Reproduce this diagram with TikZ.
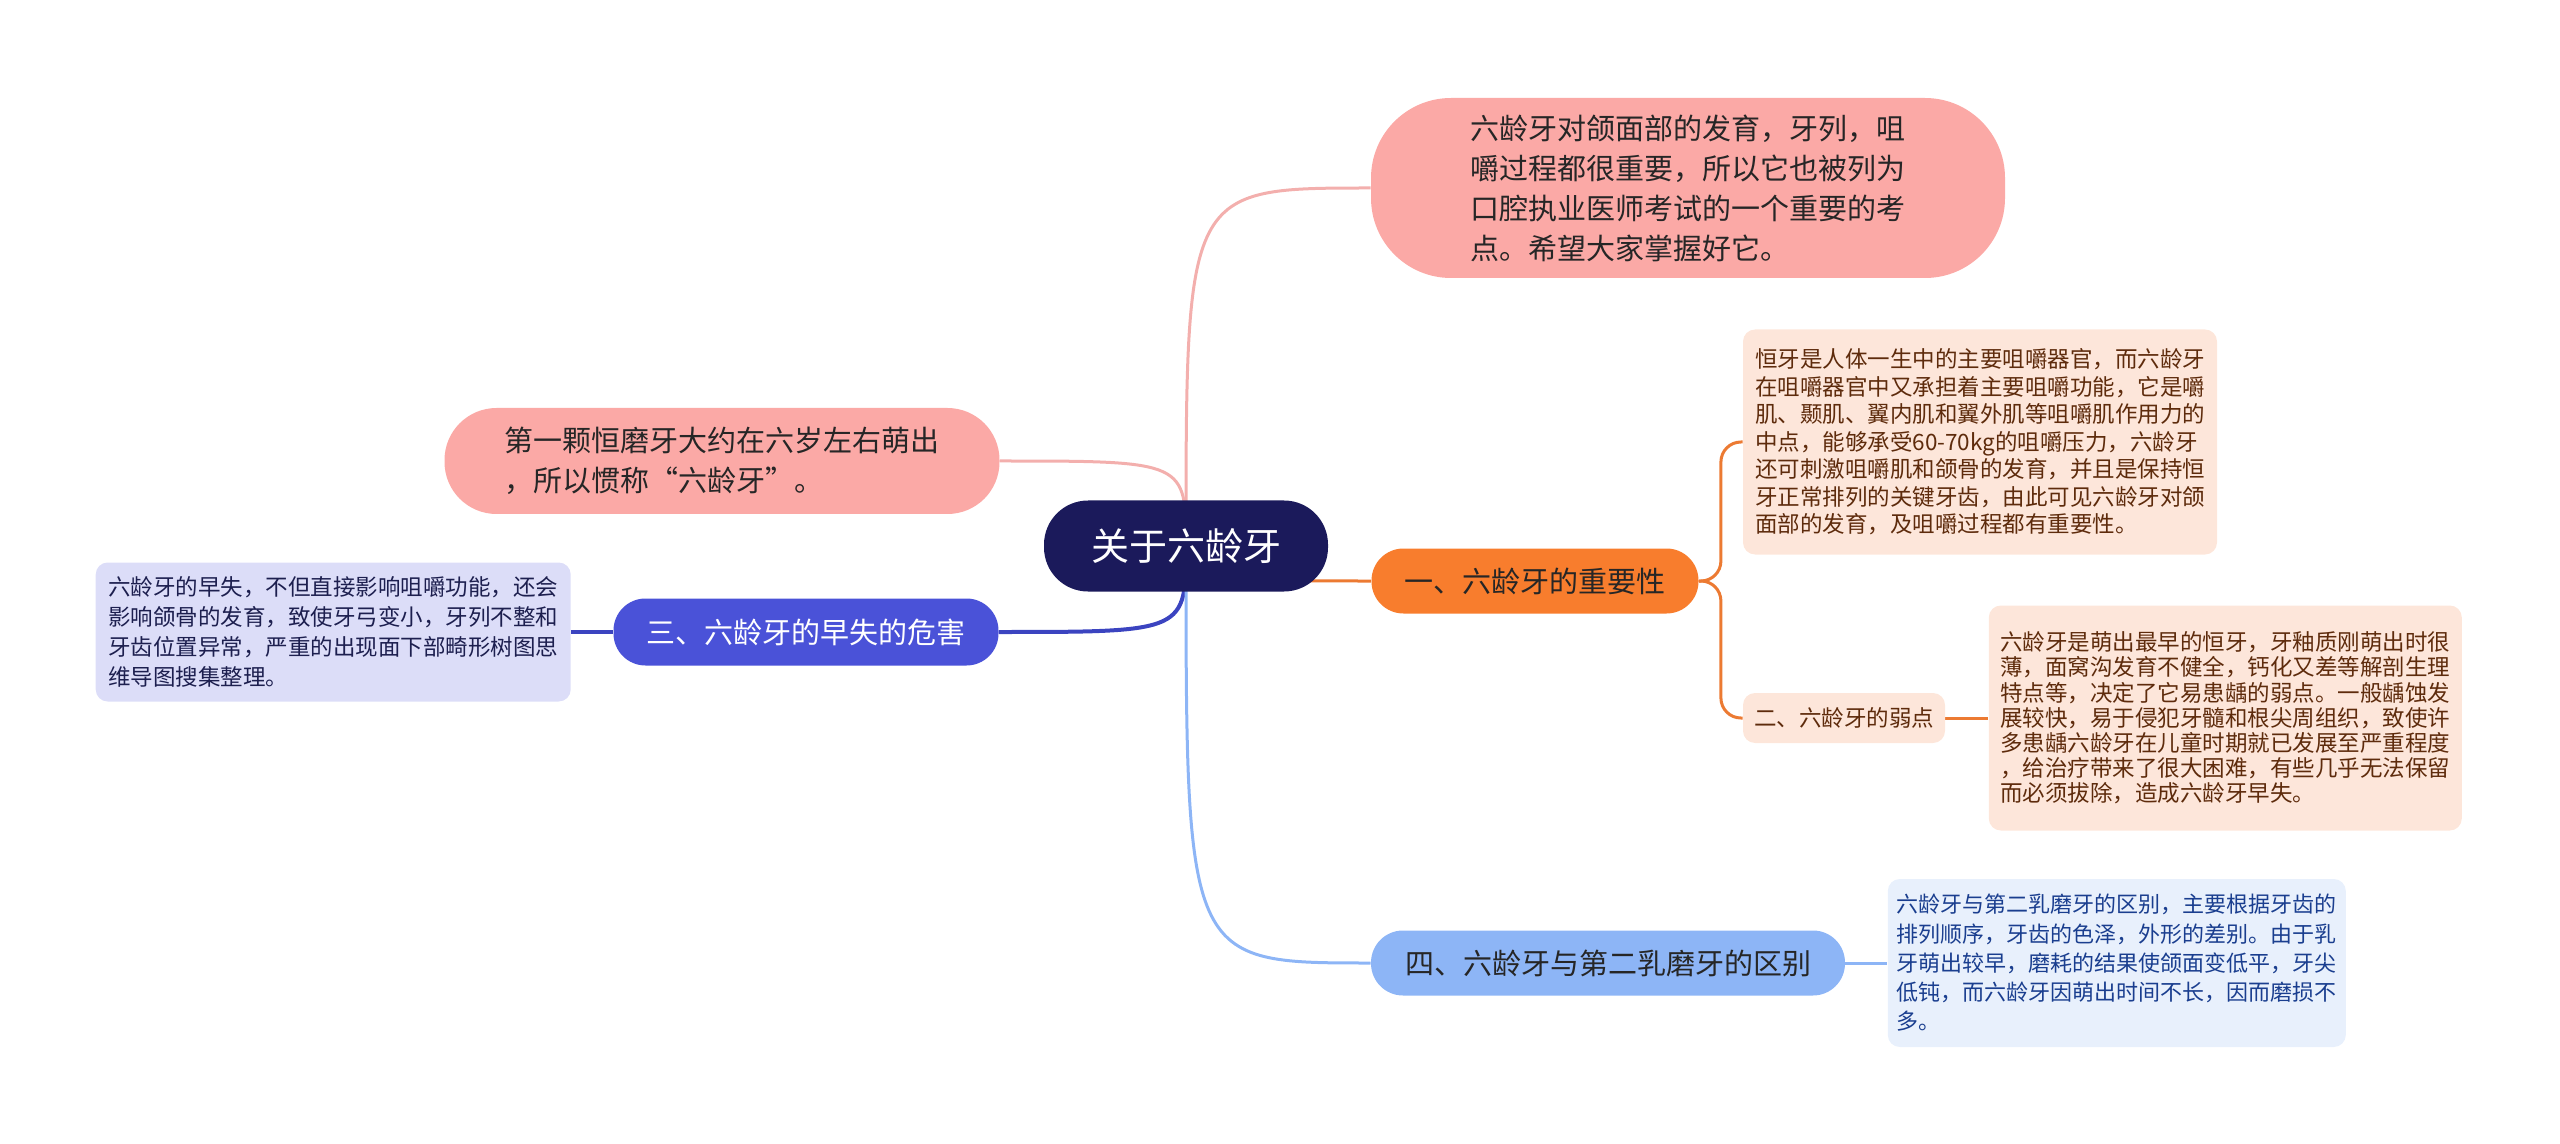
\documentclass[tikz,border=0pt]{standalone}
\usepackage{fontspec}
\setmainfont{Noto Sans CJK SC}
\usepackage{tikz}
\usetikzlibrary{
  positioning,
  backgrounds,
}
\definecolor{rootBg}{HTML}{1B1A5B}
\definecolor{pinkBg}{HTML}{FBA9A6}
\definecolor{pinkLn}{HTML}{F3AFAD}
\definecolor{orangeBg}{HTML}{F87D2D}
\definecolor{orangeLn}{HTML}{EC7A32}
\definecolor{indigoBg}{HTML}{4A52D8}
\definecolor{indigoLn}{HTML}{3B44C0}
\definecolor{skyBg}{HTML}{8DB5F6}
\definecolor{peachBg}{HTML}{FDE6DA}
\definecolor{peachTx}{HTML}{5E2B0C}
\definecolor{lavBg}{HTML}{DCDDF8}
\definecolor{lavTx}{HTML}{1D1F4F}
\definecolor{iceBg}{HTML}{E8F0FC}
\definecolor{iceTx}{HTML}{1A3E8F}
\tikzset{
  rootbox/.style={
    rectangle, rounded corners=22pt, fill=rootBg, text=white, inner sep=0pt,
    minimum width=142pt, minimum height=45.5pt,
    font=\fontsize{19pt}{23pt}\selectfont,
  },
  branch/.style 2 args={
    rectangle, rounded corners=16pt, fill=#1, text=#2, inner sep=0pt,
    align=left, font=\fontsize{14.5pt}{20pt}\selectfont,
  },
  leaf/.style 2 args={
    rectangle, rounded corners=6pt, fill=#1, text=#2, inner sep=0pt,
    align=left, font=\fontsize{11.25pt}{13.75pt}\selectfont,
  },
  branchline/.style={line width=1.5pt, draw=#1},
}

\begin{document}
\begin{tikzpicture}[x=0.5pt, y=-0.5pt]
\useasboundingbox (0,0) rectangle (2560,1144);

% root and main branches
\node[rootbox] (root) at (1186,546) {关于六龄牙};
\node[branch={pinkBg}{black!85}, rounded corners=40pt,
      minimum width=317pt, minimum height=90pt] (remark) at (1688,188) {%
  六龄牙对颌面部的发育，牙列，咀\\
  嚼过程都很重要，所以它也被列为\\
  口腔执业医师考试的一个重要的考\\
  点。希望大家掌握好它。};
\node[branch={pinkBg}{black!85}, rounded corners=26pt,
      minimum width=277.5pt, minimum height=53pt] (origin) at (722,461) {%
  第一颗恒磨牙大约在六岁左右萌出\\
  ，所以惯称“六龄牙”。};
\node[branch={orangeBg}{black!85},
      minimum width=163.5pt, minimum height=32.5pt] (imp) at (1535,581)
  {一、六龄牙的重要性};
\node[branch={indigoBg}{white},
      minimum width=192.5pt, minimum height=33.5pt] (three) at (806,632)
  {三、六龄牙的早失的危害};
\node[branch={skyBg}{black!85},
      minimum width=237pt, minimum height=32.5pt] (sky) at (1608,963)
  {四、六龄牙与第二乳磨牙的区别};

% details
\node[leaf={peachBg}{peachTx}, minimum width=237pt, minimum height=112.5pt]
  (d1) at (1980,442) {%
  恒牙是人体一生中的主要咀嚼器官，而六龄牙\\
  在咀嚼器官中又承担着主要咀嚼功能，它是嚼\\
  肌、颞肌、翼内肌和翼外肌等咀嚼肌作用力的\\
  中点，能够承受60-70kg的咀嚼压力，六龄牙\\
  还可刺激咀嚼肌和颌骨的发育，并且是保持恒\\
  牙正常排列的关键牙齿，由此可见六龄牙对颌\\
  面部的发育，及咀嚼过程都有重要性。};
\node[leaf={peachBg}{peachTx}, minimum width=101pt, minimum height=25pt]
  (weak) at (1844,718) {二、六龄牙的弱点};
\node[leaf={peachBg}{peachTx}, minimum width=236.5pt, minimum height=112.5pt,
      font=\fontsize{11.25pt}{12.6pt}\selectfont, right=21.5pt of weak] (d2) {%
  六龄牙是萌出最早的恒牙，牙釉质刚萌出时很\\
  薄，面窝沟发育不健全，钙化又差等解剖生理\\
  特点等，决定了它易患龋的弱点。一般龋蚀发\\
  展较快，易于侵犯牙髓和根尖周组织，致使许\\
  多患龋六龄牙在儿童时期就已发展至严重程度\\
  ，给治疗带来了很大困难，有些几乎无法保留\\
  而必须拔除，造成六龄牙早失。};
\node[leaf={iceBg}{iceTx}, minimum width=229pt, minimum height=84pt,
      font=\fontsize{11pt}{14.6pt}\selectfont, right=21pt of sky] (d3) {%
  六龄牙与第二乳磨牙的区别，主要根据牙齿的\\
  排列顺序，牙齿的色泽，外形的差别。由于乳\\
  牙萌出较早，磨耗的结果使颌面变低平，牙尖\\
  低钝，而六龄牙因萌出时间不长，因而磨损不\\
  多。};
\node[leaf={lavBg}{lavTx}, minimum width=237.5pt, minimum height=69.5pt,
      font=\fontsize{11.25pt}{15pt}\selectfont, left=21pt of three] (ld) {%
  六龄牙的早失，不但直接影响咀嚼功能，还会\\
  影响颌骨的发育，致使牙弓变小，牙列不整和\\
  牙齿位置异常，严重的出现面下部畸形树图思\\
  维导图搜集整理。};

% connectors
\begin{scope}[on background layer]
\draw[branchline=pinkLn] (root.center)
  .. controls (root.center |- remark.west) .. (remark.west);
\draw[branchline=pinkLn] (root.center)
  .. controls (root.center |- origin.east) .. (origin.east);
\draw[branchline=orangeLn] (root.center)
  .. controls (root.center |- imp.west) .. (imp.west);
\draw[branchline=indigoLn, line width=2pt] (root.center)
  .. controls (root.center |- three.east) .. (three.east);
\draw[branchline=skyBg] (root.center)
  .. controls (root.center |- sky.west) .. (sky.west);
\draw[branchline=orangeLn, rounded corners=10pt] (imp.east) -- ++(22,0) |- (d1.west);
\draw[branchline=orangeLn, rounded corners=10pt] (imp.east) -- ++(22,0) |- (weak.west);
\draw[branchline=orangeLn] (weak.east) -- (d2.west);
\draw[branchline=skyBg] (sky.east) -- (d3.west);
\draw[branchline=indigoLn, line width=2pt] (three.west) -- (ld.east);
\end{scope}
\end{tikzpicture}
\end{document}
